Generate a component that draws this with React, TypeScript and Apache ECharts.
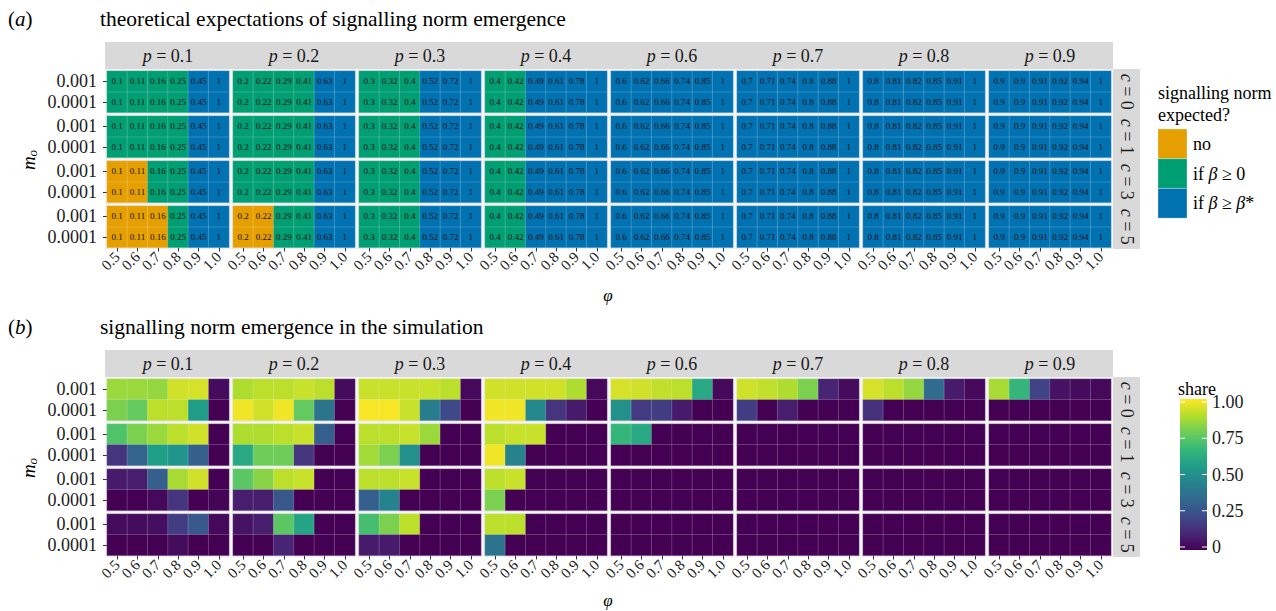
import React, { useEffect, useRef } from "react";
import * as echarts from "echarts";

const FONT = '"Liberation Serif", "DejaVu Serif", serif';

// facet labels
const pLabels = ["0.1", "0.2", "0.3", "0.4", "0.6", "0.7", "0.8", "0.9"];
const cLabels = ["0", "1", "3", "5"];
const phiLabels = ["0.5", "0.6", "0.7", "0.8", "0.9", "1.0"];
const moLabels = ["0.0001", "0.001"]; // bottom to top

// (a) theoretical threshold values per p (same for every c and m_o)
const theoryP01 = [0.1, 0.11, 0.16, 0.25, 0.45, 1];
const theoryP02 = [0.2, 0.22, 0.29, 0.41, 0.63, 1];
const theoryP03 = [0.3, 0.32, 0.4, 0.52, 0.72, 1];
const theoryP04 = [0.4, 0.42, 0.49, 0.61, 0.78, 1];
const theoryP06 = [0.6, 0.62, 0.66, 0.74, 0.85, 1];
const theoryP07 = [0.7, 0.71, 0.74, 0.8, 0.88, 1];
const theoryP08 = [0.8, 0.81, 0.82, 0.85, 0.91, 1];
const theoryP09 = [0.9, 0.9, 0.91, 0.92, 0.94, 1];
const theoryValues = [theoryP01, theoryP02, theoryP03, theoryP04, theoryP06, theoryP07, theoryP08, theoryP09];

// (a) expectation category per c (rows c=0,1,3,5), per phi: O = no, G = if beta>=0, B = if beta>=beta*
const expP01 = ["GGGGBB", "GGGGBB", "OOGGBB", "OOOGBB"];
const expP02 = ["GGGGBB", "GGGGBB", "GGGGBB", "OOGGBB"];
const expP03 = ["GGGBBB", "GGGBBB", "GGGBBB", "GGGBBB"];
const expP04 = ["GGBBBB", "GGBBBB", "GGBBBB", "GGBBBB"];
const expP06 = ["BBBBBB", "BBBBBB", "BBBBBB", "BBBBBB"];
const expP07 = ["BBBBBB", "BBBBBB", "BBBBBB", "BBBBBB"];
const expP08 = ["BBBBBB", "BBBBBB", "BBBBBB", "BBBBBB"];
const expP09 = ["BBBBBB", "BBBBBB", "BBBBBB", "BBBBBB"];
const expectedCats = [expP01, expP02, expP03, expP04, expP06, expP07, expP08, expP09];
const catNames = ["no", "if β ≥ 0", "if β ≥ β*"];

// (b) simulated share; rows: c0 m.001, c0 m.0001, c1 m.001, c1 m.0001, c3 ..., c5 ...
const shareP01 = [
  [0.85, 0.85, 0.84, 0.93, 0.94, 0.03],
  [0.8, 0.76, 0.9, 0.9, 0.55, 0.0],
  [0.72, 0.8, 0.85, 0.9, 0.93, 0.0],
  [0.15, 0.32, 0.56, 0.52, 0.3, 0.0],
  [0.07, 0.08, 0.3, 0.87, 0.93, 0.0],
  [0.0, 0.0, 0.02, 0.15, 0.0, 0.01],
  [0.03, 0.03, 0.04, 0.18, 0.27, 0.02],
  [0.0, 0.0, 0.0, 0.03, 0.0, 0.0],
];
const shareP02 = [
  [0.88, 0.9, 0.9, 0.92, 0.9, 0.03],
  [0.98, 0.93, 0.98, 0.76, 0.38, 0.0],
  [0.88, 0.88, 0.9, 0.92, 0.3, 0.0],
  [0.6, 0.78, 0.78, 0.15, 0.0, 0.0],
  [0.74, 0.82, 0.9, 0.92, 0.0, 0.0],
  [0.08, 0.08, 0.27, 0.0, 0.0, 0.0],
  [0.05, 0.08, 0.74, 0.58, 0.0, 0.0],
  [0.0, 0.0, 0.1, 0.0, 0.0, 0.0],
];
const shareP03 = [
  [0.92, 0.92, 0.92, 0.92, 0.9, 0.02],
  [0.99, 0.99, 0.92, 0.42, 0.22, 0.0],
  [0.9, 0.9, 0.92, 0.85, 0.0, 0.0],
  [0.86, 0.8, 0.5, 0.0, 0.0, 0.0],
  [0.9, 0.9, 0.92, 0.0, 0.0, 0.0],
  [0.3, 0.45, 0.0, 0.0, 0.0, 0.0],
  [0.7, 0.8, 0.9, 0.0, 0.0, 0.0],
  [0.07, 0.07, 0.0, 0.0, 0.0, 0.0],
];
const shareP04 = [
  [0.93, 0.93, 0.93, 0.93, 0.88, 0.02],
  [0.98, 0.98, 0.47, 0.15, 0.07, 0.0],
  [0.9, 0.92, 0.92, 0.0, 0.0, 0.0],
  [0.98, 0.45, 0.0, 0.0, 0.0, 0.0],
  [0.9, 0.92, 0.0, 0.0, 0.0, 0.0],
  [0.8, 0.0, 0.0, 0.0, 0.0, 0.0],
  [0.9, 0.9, 0.0, 0.0, 0.0, 0.0],
  [0.38, 0.0, 0.0, 0.0, 0.0, 0.0],
];
const shareP06 = [
  [0.94, 0.93, 0.91, 0.9, 0.6, 0.02],
  [0.5, 0.17, 0.18, 0.07, 0.0, 0.0],
  [0.66, 0.6, 0.0, 0.0, 0.0, 0.0],
  [0.0, 0.0, 0.0, 0.0, 0.0, 0.0],
  [0.0, 0.0, 0.0, 0.0, 0.0, 0.0],
  [0.0, 0.0, 0.0, 0.0, 0.0, 0.0],
  [0.0, 0.0, 0.0, 0.0, 0.0, 0.0],
  [0.0, 0.0, 0.0, 0.0, 0.0, 0.0],
];
const shareP07 = [
  [0.93, 0.91, 0.88, 0.8, 0.1, 0.03],
  [0.18, 0.0, 0.08, 0.0, 0.0, 0.0],
  [0.0, 0.0, 0.0, 0.0, 0.0, 0.0],
  [0.0, 0.0, 0.0, 0.0, 0.0, 0.0],
  [0.0, 0.0, 0.0, 0.0, 0.0, 0.0],
  [0.0, 0.0, 0.0, 0.0, 0.0, 0.0],
  [0.0, 0.0, 0.0, 0.0, 0.0, 0.0],
  [0.0, 0.0, 0.0, 0.0, 0.0, 0.0],
];
const shareP08 = [
  [0.94, 0.9, 0.84, 0.35, 0.07, 0.02],
  [0.14, 0.0, 0.0, 0.0, 0.0, 0.0],
  [0.0, 0.0, 0.0, 0.0, 0.0, 0.0],
  [0.0, 0.0, 0.0, 0.0, 0.0, 0.0],
  [0.0, 0.0, 0.0, 0.0, 0.0, 0.0],
  [0.0, 0.0, 0.0, 0.0, 0.0, 0.0],
  [0.0, 0.0, 0.0, 0.0, 0.0, 0.0],
  [0.0, 0.0, 0.0, 0.0, 0.0, 0.0],
];
const shareP09 = [
  [0.87, 0.66, 0.2, 0.05, 0.03, 0.02],
  [0.0, 0.0, 0.0, 0.0, 0.0, 0.0],
  [0.0, 0.0, 0.0, 0.0, 0.0, 0.0],
  [0.0, 0.0, 0.0, 0.0, 0.0, 0.0],
  [0.0, 0.0, 0.0, 0.0, 0.0, 0.0],
  [0.0, 0.0, 0.0, 0.0, 0.0, 0.0],
  [0.0, 0.0, 0.0, 0.0, 0.0, 0.0],
  [0.0, 0.0, 0.0, 0.0, 0.0, 0.0],
];
const shareValues = [shareP01, shareP02, shareP03, shareP04, shareP06, shareP07, shareP08, shareP09];
const shareTicks = [0, 0.25, 0.5, 0.75, 1];
const shareTickLabels = ["0", "0.25", "0.50", "0.75", "1.00"];

// styling
const catColors: Record<string, string> = { O: "#E69F00", G: "#009E73", B: "#0072B2" };
const catOrder = ["O", "G", "B"];
const viridis = ["#440154", "#482878", "#3E4A89", "#31688E", "#26828E", "#1F9E89", "#35B779", "#6DCD59", "#B4DE2C", "#FDE725"];

const colX = [107, 233, 359, 485, 611, 737, 863, 989];
const facetW = 122;
const rowTops = [71, 116, 161, 206];
const facetH = 41.5;
const panelOffset = 308;
const STRIP = "#D9D9D9";

function buildOption() {
  const grids: any[] = [];
  const xAxes: any[] = [];
  const yAxes: any[] = [];
  const series: any[] = [];
  const aSeries: number[] = [];
  const bSeries: number[] = [];
  const graphics: any[] = [];
  let gi = 0;
  for (let panel = 0; panel < 2; panel++) {
    const oy = panel * panelOffset;
    for (let r = 0; r < 4; r++) {
      for (let j = 0; j < 8; j++) {
        const top = rowTops[r] + oy;
        grids.push({ left: colX[j], top, width: facetW, height: facetH });
        graphics.push({
          type: "rect",
          z: 0,
          shape: { x: colX[j] - 1.5, y: top - 1.5, width: facetW + 3, height: facetH + 3 },
          style: { fill: "#EBEBEB" },
        });
        xAxes.push({
          gridIndex: gi,
          type: "category",
          data: phiLabels,
          axisLine: { show: false },
          axisTick: { show: r === 3, length: 4, alignWithLabel: true, interval: 0, lineStyle: { color: "#333" } },
          axisLabel: {
            show: r === 3,
            interval: 0,
            hideOverlap: false,
            rotate: 45,
            fontSize: 15,
            fontFamily: FONT,
            color: "#1a1a1a",
            margin: 7,
          },
          splitLine: { show: false },
        });
        yAxes.push({
          gridIndex: gi,
          type: "category",
          data: moLabels,
          axisLine: { show: false },
          axisTick: { show: j === 0, length: 4, alignWithLabel: true, interval: 0, lineStyle: { color: "#333" } },
          axisLabel: {
            show: j === 0,
            interval: 0,
            hideOverlap: false,
            fontSize: 18,
            fontFamily: FONT,
            color: "#1a1a1a",
            margin: 10,
          },
          splitLine: { show: false },
        });
        const data: any[] = [];
        if (panel === 0) {
          const vals = theoryValues[j];
          const cats = expectedCats[j][r];
          for (let y = 0; y < 2; y++)
            for (let x = 0; x < 6; x++) data.push([x, y, vals[x], catOrder.indexOf(cats[x])]);
          series.push({
            type: "heatmap",
            xAxisIndex: gi,
            yAxisIndex: gi,
            data,
            itemStyle: { borderColor: "rgba(255,255,255,0.3)", borderWidth: 0.6 },
            label: {
              show: true,
              fontSize: 9,
              fontFamily: FONT,
              color: "#111",
              formatter: (p: any) => String(p.value[2]),
            },
            emphasis: { disabled: true },
          });
          aSeries.push(gi);
        } else {
          const rows = shareValues[j];
          const topRow = rows[2 * r];
          const botRow = rows[2 * r + 1];
          for (let x = 0; x < 6; x++) {
            data.push([x, 1, topRow[x]]);
            data.push([x, 0, botRow[x]]);
          }
          series.push({
            type: "heatmap",
            xAxisIndex: gi,
            yAxisIndex: gi,
            data,
            itemStyle: { borderColor: "rgba(255,255,255,0.3)", borderWidth: 0.6 },
            emphasis: { disabled: true },
          });
          bSeries.push(gi);
        }
        gi++;
      }
    }

    // strips
    graphics.push({ type: "rect", z: 1, shape: { x: 105, y: 42 + oy, width: 1008, height: 27 }, style: { fill: STRIP } });
    graphics.push({ type: "rect", z: 1, shape: { x: 1113, y: 69 + oy, width: 27, height: 180 }, style: { fill: STRIP } });
    for (let j = 0; j < 8; j++) {
      graphics.push({
        type: "text",
        z: 10,
        x: colX[j] + facetW / 2,
        y: 56 + oy,
        style: {
          text: "{i|p} = " + pLabels[j],
          align: "center",
          verticalAlign: "middle",
          font: `18px ${FONT}`,
          fill: "#1a1a1a",
          rich: { i: { fontStyle: "italic", fontSize: 18, fontFamily: FONT, fill: "#1a1a1a" } },
        },
      });
    }
    for (let r = 0; r < 4; r++) {
      graphics.push({
        type: "text",
        z: 10,
        x: 1127,
        y: rowTops[r] + oy + facetH / 2,
        rotation: -Math.PI / 2,
        style: {
          text: "{i|c} = " + cLabels[r],
          align: "center",
          verticalAlign: "middle",
          font: `18px ${FONT}`,
          fill: "#1a1a1a",
          rich: { i: { fontStyle: "italic", fontSize: 18, fontFamily: FONT, fill: "#1a1a1a" } },
        },
      });
    }
    // axis titles
    graphics.push({
      type: "text",
      z: 10,
      x: 608,
      y: (panel === 0 ? 295 : 600),
      style: { text: "φ", align: "center", verticalAlign: "middle", font: `italic 17px ${FONT}`, fill: "#000" },
    });
    graphics.push({
      type: "text",
      z: 10,
      x: 28,
      y: 160 + oy,
      rotation: Math.PI / 2,
      style: {
        text: "{i|m}{s|o}",
        align: "center",
        verticalAlign: "middle",
        font: `italic 18px ${FONT}`,
        fill: "#000",
        rich: {
          i: { fontStyle: "italic", fontSize: 19, fontFamily: FONT, fill: "#000" },
          s: { fontStyle: "italic", fontSize: 13, fontFamily: FONT, fill: "#000", padding: [9, 0, 0, 0] },
        },
      },
    });
    // panel letter and title
    graphics.push({
      type: "text",
      z: 10,
      x: 8,
      y: 19 + oy,
      style: {
        text: "({i|" + (panel === 0 ? "a" : "b") + "})",
        verticalAlign: "middle",
        font: `21px ${FONT}`,
        fill: "#000",
        rich: { i: { fontStyle: "italic", fontSize: 21, fontFamily: FONT, fill: "#000" } },
      },
    });
    graphics.push({
      type: "text",
      z: 10,
      x: 100,
      y: 19 + oy,
      style: {
        text: panel === 0 ? "theoretical expectations of signalling norm emergence" : "signalling norm emergence in the simulation",
        verticalAlign: "middle",
        font: `21.5px ${FONT}`,
        fill: "#000",
      },
    });
  }

  // legend (a)
  graphics.push({ type: "text", z: 10, x: 1158, y: 93, style: { text: "signalling norm", verticalAlign: "middle", font: `18px ${FONT}`, fill: "#000" } });
  graphics.push({ type: "text", z: 10, x: 1158, y: 115, style: { text: "expected?", verticalAlign: "middle", font: `18px ${FONT}`, fill: "#000" } });
  catOrder.forEach((k, i) => {
    const y0 = 129 + i * 29.7;
    graphics.push({ type: "rect", z: 10, shape: { x: 1158, y: y0, width: 29, height: 29.7 }, style: { fill: catColors[k], stroke: "rgba(255,255,255,0.6)", lineWidth: 0.5 } });
    const name = catNames[i].replace(/β/g, "{i|β}");
    graphics.push({
      type: "text",
      z: 10,
      x: 1193,
      y: y0 + 15,
      style: {
        text: name,
        verticalAlign: "middle",
        font: `18px ${FONT}`,
        fill: "#000",
        rich: { i: { fontStyle: "italic", fontSize: 18, fontFamily: FONT, fill: "#000" } },
      },
    });
  });

  // legend (b) colorbar
  const barTop = 399;
  const barH = 151;
  const barX = 1180;
  const barW = 27;
  const v2y = (v: number) => barTop + 3 + (1 - v) * (barH - 6);
  graphics.push({ type: "text", z: 10, x: 1178, y: 389, style: { text: "share", verticalAlign: "middle", font: `18px ${FONT}`, fill: "#000" } });
  graphics.push({
    type: "rect",
    z: 10,
    shape: { x: barX, y: barTop, width: barW, height: barH },
    style: {
      fill: new echarts.graphic.LinearGradient(
        0,
        0,
        0,
        1,
        viridis
          .slice()
          .reverse()
          .map((c, i) => ({ offset: i / (viridis.length - 1), color: c }))
      ),
    },
  });
  shareTicks.forEach((v, i) => {
    const y = v2y(v);
    graphics.push({ type: "line", z: 11, shape: { x1: barX, y1: y, x2: barX + 5, y2: y }, style: { stroke: "#fff", lineWidth: 1 } });
    graphics.push({ type: "line", z: 11, shape: { x1: barX + barW - 5, y1: y, x2: barX + barW, y2: y }, style: { stroke: "#fff", lineWidth: 1 } });
    graphics.push({
      type: "text",
      z: 10,
      x: 1212,
      y,
      style: { text: shareTickLabels[i], verticalAlign: "middle", font: `18px ${FONT}`, fill: "#1a1a1a" },
    });
  });

  return {
    animation: false,
    backgroundColor: "#fff",
    grid: grids,
    xAxis: xAxes,
    yAxis: yAxes,
    visualMap: [
      {
        type: "piecewise",
        show: false,
        dimension: 3,
        seriesIndex: aSeries,
        pieces: catOrder.map((k, i) => ({ value: i, color: catColors[k] })),
      },
      {
        type: "continuous",
        show: false,
        min: 0,
        max: 1,
        dimension: 2,
        seriesIndex: bSeries,
        inRange: { color: viridis },
      },
    ],
    series,
    graphic: { elements: graphics },
  };
}

export default function App() {
  const ref = useRef<HTMLDivElement>(null);
  useEffect(() => {
    if (!ref.current) return;
    const chart = echarts.init(ref.current, undefined, { renderer: "svg" });
    chart.setOption(buildOption() as any);
    return () => chart.dispose();
  }, []);
  return (
    <div
      ref={ref}
      style={{ position: "fixed", left: 0, top: 0, width: 1276, height: 611, background: "#fff" }}
    />
  );
}
